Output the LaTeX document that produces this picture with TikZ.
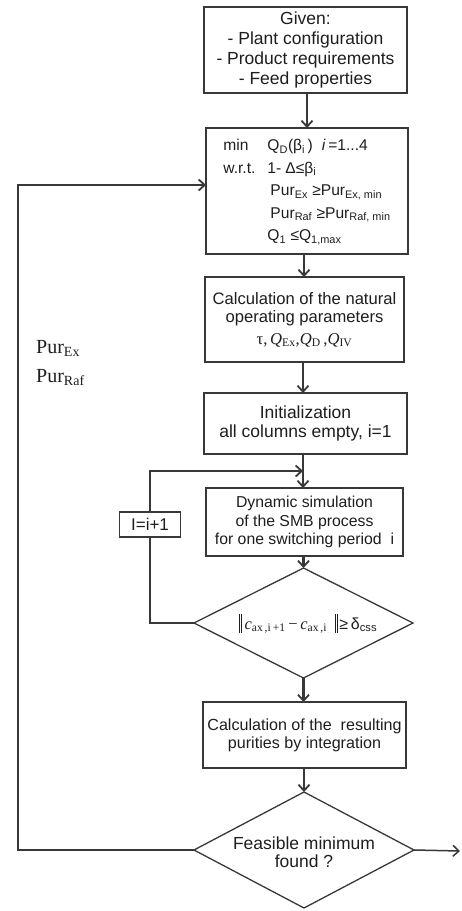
\documentclass[tikz,border=0pt]{standalone}
\usepackage{fontspec}
\setmainfont{Liberation Sans}
\newfontfamily\seriffont{Liberation Serif}
\usetikzlibrary{shapes.geometric,arrows.meta}
\definecolor{ink}{HTML}{383838}
\definecolor{txt}{HTML}{1E1E1E}
\begin{document}
\begin{tikzpicture}[x=1pt,y=-1pt,
  box/.style={draw=ink,line width=1.8pt,fill=white,align=center,text=txt,inner sep=0pt,outer sep=0pt},
  dia/.style={draw=ink,line width=1.3pt,shape=diamond,inner sep=0pt,outer sep=0pt},
  dtext/.style={align=center,text=txt,inner sep=0pt},
  conn/.style={draw=ink,line width=2.2pt},
  arr/.style={conn,-{Straight Barb[length=6pt,width=11pt,line width=1.8pt]}},
  lbl/.style={text=txt,inner sep=0pt,anchor=base west}
]
\useasboundingbox (0,0) rectangle (461,911);

\node[box,minimum width=203pt,minimum height=86pt,font=\fontsize{17.5}{20}\selectfont] (given) at (305.5,50)
  {Given:\\- Plant configuration\\- Product requirements\\- Feed properties};

\node[box,minimum width=202pt,minimum height=126pt,font=\fontsize{15.6}{22.5}\selectfont] (opt) at (307,191) {%
\begin{tabular}{@{}l@{\hspace{12pt}}l@{}}
min & Q\textsubscript{D}(β\textsubscript{i}\,)\hspace{9pt}\textit{i}\,=1...4\\
w.r.t. & 1-\hspace{4pt}Δ≤β\textsubscript{i}\\
 & \hspace{3pt}Pur\textsubscript{Ex} ≥Pur\textsubscript{Ex, min}\\
 & \hspace{3pt}Pur\textsubscript{Raf} ≥Pur\textsubscript{Raf, min}\\
 & Q\textsubscript{1} ≤Q\textsubscript{1,max}
\end{tabular}};

\node[box,minimum width=199pt,minimum height=85pt,font=\fontsize{16.6}{18}\selectfont] (calc) at (304.5,319.5)
  {Calculation of the natural\\operating parameters\\[4pt]
   {\seriffont τ,\,\textit{Q}\textsubscript{Ex},\textit{Q}\textsubscript{D}\,,\textit{Q}\textsubscript{IV}}};

\node[box,minimum width=203pt,minimum height=61pt,font=\fontsize{17.5}{19}\selectfont] (init) at (305.5,423.5)
  {Initialization\\all columns empty, i=1};

\node[box,minimum width=197pt,minimum height=68pt,font=\fontsize{15.8}{18.5}\selectfont] (dyn) at (304.5,522)
  {Dynamic simulation\\of the SMB process\\for one switching period\ \ i};

\node[dia,minimum width=219pt,minimum height=110pt] (conv) at (303.5,623) {};
\node[dtext] (convtext) at (308,624)
  {\raisebox{-4pt}{\rule{0.7pt}{19pt}\hspace{1.3pt}\rule{0.7pt}{19pt}}\hspace{3pt}%
   {\seriffont\fontsize{16.5}{18}\selectfont\textit{c}\textsubscript{ax\,,i\,+1}\,−\,\textit{c}\textsubscript{ax\,,i}}\hspace{8pt}%
   \raisebox{-4pt}{\rule{0.7pt}{19pt}\hspace{1.3pt}\rule{0.7pt}{19pt}}\,%
   {\fontsize{16}{18}\selectfont≥\,δ\textsubscript{css}}};

\node[box,minimum width=61pt,minimum height=25pt,font=\fontsize{17}{18}\selectfont] (inc) at (150,524.5)
  {I=i+1};

\node[box,minimum width=203pt,minimum height=66pt,font=\fontsize{16.1}{18}\selectfont] (res) at (304.5,735)
  {Calculation of the\ \ resulting\\purities by integration};

\node[dia,minimum width=220pt,minimum height=116pt] (feas) at (304,850) {};
\node[dtext,font=\fontsize{17.5}{17.5}\selectfont] (feastext) at (304,852) {Feasible minimum\\found ?};

\node[lbl] (purex) at (36,353) {\seriffont\fontsize{20}{20}\selectfont Pur\textsubscript{Ex}};
\node[lbl] (purraf) at (36,382) {\seriffont\fontsize{20}{20}\selectfont Pur\textsubscript{Raf}};

\coordinate (loopend) at (303,471);
\coordinate (exitend) at (460,851);
\coordinate (leftcorner) at (18,850);

\draw[arr] (given.south -| 307,0) -- (opt.north -| 307,0);
\draw[arr] (opt.south -| 304,0) -- (calc.north -| 304,0);
\draw[arr] (calc.south -| 303,0) -- (init.north -| 303,0);
\draw[arr] (init.south -| 303,0) -- (dyn.north -| 303,0);
\draw[arr] (dyn.south -| conv.north) -- (conv.north);
\draw[arr] (conv.south) -- (res.north -| conv.south);
\draw[arr] (res.south -| feas.north) -- (feas.north);
\draw[conn] (conv.west) -| (inc.south);
\draw[arr] (inc.north) |- (loopend);
\draw[conn,-{Straight Barb[length=6pt,width=11pt,line width=1.5pt]},line width=1.5pt] (feas.east) -- (exitend);
\draw[arr] (feas.west) -- (leftcorner) |- ([yshift=6pt]opt.west);
\end{tikzpicture}
\end{document}
